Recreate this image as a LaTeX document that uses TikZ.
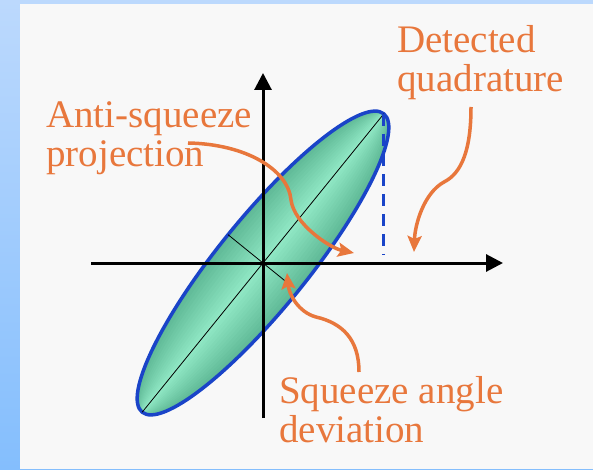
\documentclass[tikz,border=0pt]{standalone}
\usepackage{fontspec}
\setmainfont{Liberation Serif}
\usetikzlibrary{arrows.meta,calc}
\definecolor{panelgray}{HTML}{F8F8F8}
\definecolor{skytop}{HTML}{BCD9FD}
\definecolor{skybot}{HTML}{84BEFD}
\definecolor{labelorange}{HTML}{E8773C}
\definecolor{rimblue}{HTML}{1A44C8}
\definecolor{fillgreen}{HTML}{5FB996}
\definecolor{fillpale}{HTML}{9CF3D0}
\tikzset{
  axisline/.style={line width=3pt,-{Triangle[length=17pt,width=17pt]}},
  pointer/.style={labelorange,line width=3.5pt,-{Stealth[length=16pt,width=14pt,inset=3pt]}},
  caption/.style={labelorange,font=\fontsize{39}{39}\selectfont,align=left,inner sep=0pt,anchor=base west},
}

\begin{document}
\begin{tikzpicture}[x=1pt,y=1pt]
  \useasboundingbox (0,0) rectangle (593,469);
  \shade[top color=skytop,bottom color=skybot] (0,0) rectangle (593,469);
  \fill[panelgray] (20,0) rectangle (593,465);

  % squeezed state
  \coordinate (o) at (263,206);
  \foreach \k [evaluate=\k as \b using 45-3.2*\k, evaluate=\k as \mix using 100-6*\k] in {0,...,13}
    \fill[fillgreen!\mix!fillpale,rotate=51] (o) ellipse (192 and \b);
  \draw[rimblue,line width=3.5pt,rotate=51] (o) ellipse (192 and 45);
  \coordinate (tipR) at ($(o)+(51:192)$);
  \coordinate (tipL) at ($(o)+(231:192)$);
  \coordinate (minUL) at ($(o)+(141:45)$);
  \coordinate (minLR) at ($(o)+(-39:28)$);
  \draw[line width=0.8pt] (tipL) -- (tipR);
  \draw[line width=0.8pt] (minUL) -- (minLR);
  \coordinate (projfoot) at ([yshift=8pt]tipR |- o);
  \draw[rimblue,line width=3pt,dash pattern=on 12pt off 8pt] (tipR) -- (projfoot);

  % axes
  \coordinate (xl) at (91,206);
  \coordinate (xr) at (503,206);
  \coordinate (yb) at (263,51);
  \coordinate (yt) at (263,396);
  \draw[axisline] (xl) -- (xr);
  \draw[axisline] (yb) -- (yt);

  % labels (base = last line)
  \node[caption] (det) at (397,377) {Detected\\quadrature};
  \node[caption] (anti) at (46,302) {Anti-squeeze\\projection};
  \node[caption] (sqz) at (279,27) {Squeeze angle\\deviation};

  \coordinate (detS) at (471,362);
  \coordinate (detE) at (414,217);
  \coordinate (antiS) at (188,326);
  \coordinate (antiE) at (354,216);
  \coordinate (sqzS) at (359,97);
  \coordinate (sqzE) at (287,196);
  \draw[pointer] (detS) .. controls (471,320) and (462,296) .. (444,287)
    .. controls (424,276) and (415,245) .. (detE);
  \draw[pointer] (antiS) .. controls (245,325) and (288,300) .. (291,269)
    .. controls (294,245) and (330,221) .. (antiE);
  \draw[pointer] (sqzS) .. controls (359,130) and (342,146) .. (316,152)
    .. controls (298,157) and (289,175) .. (sqzE);
\end{tikzpicture}
\end{document}
